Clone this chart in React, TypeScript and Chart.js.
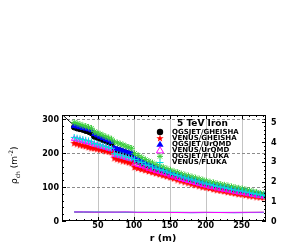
import React, { useEffect, useRef } from 'react';
import { Chart, registerables } from 'chart.js';
Chart.register(...registerables);

// radial distances (m)
const R = [
  17, 21, 25, 29, 33, 37, 41,
  45, 49, 53, 57, 61, 65, 69,
  73, 77, 81, 85, 89, 93, 97,
  101, 106, 111, 116, 121, 126, 131, 136, 141, 146, 151, 156, 161, 166, 171, 176, 181, 186, 191,
  196, 201, 206, 211, 216, 221, 226, 231, 236, 241, 246, 251, 256, 261, 266, 271, 276, 281,
];

const QGSJET_GHEISHA = [
  276, 273, 271, 269, 266, 264, 261,
  249, 246, 243, 239, 236, 232, 229,
  212, 209, 207, 204, 201, 199, 196,
  179, 175, 170, 166, 162, 158, 154, 150, 147, 143, 140, 136, 133, 129, 126, 123, 120, 117, 114,
  111, 108, 106, 103, 101, 99, 97, 95, 92, 90, 88, 87, 84, 82, 80, 78, 76, 75,
];
const VENUS_GHEISHA = [
  230, 228, 225, 223, 221, 218, 216,
  215, 213, 211, 209, 207, 205, 203,
  186, 183, 181, 178, 176, 173, 171,
  159, 156, 153, 150, 147, 144, 141, 138, 135, 132, 129, 126, 122, 119, 116, 113, 110, 107, 104,
  101, 99, 97, 94, 92, 90, 88, 86, 84, 82, 80, 79, 77, 75, 74, 72, 71, 70,
];
const QGSJET_URQMD = [
  280, 278, 276, 274, 272, 270, 267,
  256, 252, 248, 244, 240, 237, 233,
  215, 212, 210, 207, 205, 202, 200,
  187, 182, 177, 172, 167, 163, 158, 155, 151, 147, 144, 140, 137, 133, 130, 127, 124, 121, 118,
  115, 112, 110, 107, 105, 103, 101, 99, 96, 94, 92, 90, 88, 86, 83, 81, 79, 77,
];
const VENUS_URQMD = [
  242, 240, 238, 236, 233, 231, 229,
  225, 223, 220, 218, 216, 213, 211,
  195, 193, 191, 189, 186, 184, 182,
  169, 165, 162, 158, 154, 151, 147, 144, 141, 138, 134, 131, 127, 124, 121, 118, 115, 112, 109,
  106, 104, 101, 99, 96, 94, 92, 90, 88, 86, 84, 83, 81, 79, 77, 75, 74, 72,
];
const QGSJET_FLUKA = [
  290, 287, 284, 281, 279, 276, 273,
  263, 259, 256, 252, 248, 245, 241,
  233, 230, 227, 224, 220, 217, 214,
  199, 193, 187, 181, 176, 171, 166, 162, 158, 154, 150, 146, 143, 139, 136, 133, 130, 127, 124,
  121, 118, 115, 113, 110, 108, 106, 104, 101, 99, 97, 95, 92, 90, 87, 85, 82, 80,
];
const VENUS_FLUKA = [
  246, 244, 242, 240, 238, 236, 233,
  228, 226, 224, 221, 219, 216, 214,
  198, 196, 194, 192, 189, 187, 185,
  181, 176, 172, 167, 163, 159, 155, 151, 148, 144, 141, 137, 134, 130, 127, 124, 121, 118, 115,
  112, 109, 107, 104, 102, 100, 98, 96, 93, 91, 89, 88, 85, 83, 81, 79, 77, 75,
];

// fit curve
const FIT_R = [0, 10, 20, 30, 45, 60, 80, 100, 130, 160, 200, 240, 281];
const FIT_V = [314, 294, 276, 262, 246, 232, 210, 184, 157, 134, 108, 90, 75];

// ratio curves (right axis)
const RATIO_R = [17, 30, 45, 60, 75, 90, 105, 120, 140, 160, 180, 200, 220, 240, 260, 281];
const RATIO_MAGENTA = [0.46, 0.46, 0.45, 0.45, 0.45, 0.46, 0.44, 0.44, 0.44, 0.43, 0.44, 0.44, 0.43, 0.44, 0.44, 0.45];
const RATIO_CYAN = [0.47, 0.46, 0.46, 0.45, 0.44, 0.45, 0.44, 0.44, 0.43, 0.44, 0.43, 0.43, 0.44, 0.43, 0.43, 0.43];
const RATIO_BLUE = [0.45, 0.45, 0.44, 0.44, 0.44, 0.44, 0.43, 0.43, 0.43, 0.43, 0.42, 0.43, 0.43, 0.42, 0.43, 0.43];
const RATIO_GREEN = [0.46, 0.45, 0.45, 0.45, 0.45, 0.44, 0.44, 0.44, 0.44, 0.44, 0.43, 0.44, 0.43, 0.43, 0.44, 0.44];

const X_TICKS = [50, 100, 150, 200, 250];
const Y_TICKS = [0, 100, 200, 300];
const Y2_TICKS = [0, 1, 2, 3, 4, 5];

const LEGEND_LABELS = ['QGSJET/GHEISHA', 'VENUS/GHEISHA', 'QGSJET/UrQMD', 'VENUS/UrQMD', 'QGSJET/FLUKA', 'VENUS/FLUKA'];

const GREEN = 'rgb(60,205,60)';
const CYAN = 'rgb(0,220,225)';

function starPath(ctx: CanvasRenderingContext2D, cx: number, cy: number, ro: number, ri: number) {
  ctx.beginPath();
  for (let i = 0; i < 10; i++) {
    const ang = -Math.PI / 2 + (i * Math.PI) / 5;
    const rr = i % 2 === 0 ? ro : ri;
    const x = cx + rr * Math.cos(ang);
    const y = cy + rr * Math.sin(ang);
    if (i === 0) ctx.moveTo(x, y);
    else ctx.lineTo(x, y);
  }
  ctx.closePath();
}

function makeStar(size: number, color: string) {
  const c = document.createElement('canvas');
  c.width = size;
  c.height = size;
  const g = c.getContext('2d')!;
  g.fillStyle = color;
  starPath(g, size / 2, size / 2 + 0.4, size / 2, size / 4.6);
  g.fill();
  return c;
}

function pts(xs: number[], ys: number[]) {
  return xs.map((x, i) => ({ x, y: ys[i] }));
}

function drawMarker(ctx: CanvasRenderingContext2D, kind: number, x: number, y: number) {
  ctx.save();
  ctx.lineWidth = 1;
  if (kind === 0) {
    ctx.fillStyle = '#000';
    ctx.beginPath();
    ctx.arc(x, y, 3.2, 0, Math.PI * 2);
    ctx.fill();
  } else if (kind === 1) {
    ctx.fillStyle = '#ff0000';
    starPath(ctx, x, y + 0.4, 3.8, 1.6);
    ctx.fill();
  } else if (kind === 2 || kind === 3) {
    ctx.beginPath();
    ctx.moveTo(x, y - 3.5);
    ctx.lineTo(x + 3.6, y + 2.6);
    ctx.lineTo(x - 3.6, y + 2.6);
    ctx.closePath();
    if (kind === 2) {
      ctx.fillStyle = '#0000ff';
      ctx.fill();
    } else {
      ctx.strokeStyle = '#ff00ff';
      ctx.stroke();
    }
  } else if (kind === 4) {
    ctx.strokeStyle = GREEN;
    ctx.beginPath();
    ctx.moveTo(x - 3, y);
    ctx.lineTo(x + 3, y);
    ctx.moveTo(x, y - 3);
    ctx.lineTo(x, y + 3);
    ctx.moveTo(x - 2.2, y - 2.2);
    ctx.lineTo(x + 2.2, y + 2.2);
    ctx.moveTo(x - 2.2, y + 2.2);
    ctx.lineTo(x + 2.2, y - 2.2);
    ctx.stroke();
  } else {
    ctx.strokeStyle = CYAN;
    ctx.beginPath();
    ctx.moveTo(x - 3.5, y);
    ctx.lineTo(x + 3.5, y);
    ctx.moveTo(x, y - 3.5);
    ctx.lineTo(x, y + 3.5);
    ctx.stroke();
  }
  ctx.restore();
}

const rootPlugin = {
  id: 'rootStyle',
  beforeDatasetsDraw(chart: any) {
    const { ctx, chartArea: a, scales } = chart;
    ctx.save();
    ctx.lineWidth = 1;
    ctx.strokeStyle = '#c4c4c4';
    for (const v of X_TICKS) {
      const px = Math.round(scales.x.getPixelForValue(v)) + 0.5;
      ctx.beginPath();
      ctx.moveTo(px, a.top);
      ctx.lineTo(px, a.bottom);
      ctx.stroke();
    }
    ctx.strokeStyle = '#8c8c8c';
    ctx.setLineDash([3, 2]);
    for (const v of Y_TICKS) {
      if (v === 0) continue;
      const py = Math.round(scales.y.getPixelForValue(v)) + 0.5;
      ctx.beginPath();
      ctx.moveTo(a.left, py);
      ctx.lineTo(a.right, py);
      ctx.stroke();
    }
    ctx.restore();
  },
  afterDatasetsDraw(chart: any) {
    const { ctx, chartArea: a, scales } = chart;
    ctx.save();
    ctx.strokeStyle = '#000';
    ctx.lineWidth = 1;
    ctx.strokeRect(a.left + 0.5, a.top + 0.5, a.right - a.left - 1, a.bottom - a.top - 1);
    ctx.beginPath();
    // x ticks bottom & top
    for (let v = 0; v <= scales.x.max; v += 10) {
      const px = Math.round(scales.x.getPixelForValue(v)) + 0.5;
      const len = v % 50 === 0 ? 4 : 2;
      ctx.moveTo(px, a.bottom);
      ctx.lineTo(px, a.bottom - len);
      ctx.moveTo(px, a.top);
      ctx.lineTo(px, a.top + len);
    }
    // left y ticks
    for (let v = 0; v <= scales.y.max; v += 20) {
      const py = Math.round(scales.y.getPixelForValue(v)) + 0.5;
      const len = v % 100 === 0 ? 4 : 2;
      ctx.moveTo(a.left, py);
      ctx.lineTo(a.left + len, py);
    }
    // right y ticks
    for (let k = 0; k * 0.2 <= scales.y2.max; k++) {
      const py = Math.round(scales.y2.getPixelForValue(k * 0.2)) + 0.5;
      const len = k % 5 === 0 ? 4 : 2;
      ctx.moveTo(a.right, py);
      ctx.lineTo(a.right - len, py);
    }
    ctx.stroke();

    // tick labels
    ctx.fillStyle = '#000';
    ctx.font = 'bold 8px "DejaVu Sans"';
    ctx.textBaseline = 'middle';
    ctx.textAlign = 'center';
    for (const v of X_TICKS) {
      ctx.fillText(String(v), scales.x.getPixelForValue(v), a.bottom + 5);
    }
    ctx.textAlign = 'right';
    for (const v of Y_TICKS) {
      ctx.fillText(String(v), a.left - 3, scales.y.getPixelForValue(v) + 0.5);
    }
    ctx.textAlign = 'left';
    for (const v of Y2_TICKS) {
      ctx.fillText(String(v), a.right + 5, scales.y2.getPixelForValue(v) + 0.5);
    }

    // legend
    ctx.textBaseline = 'middle';
    ctx.textAlign = 'left';
    ctx.font = 'bold 9px "DejaVu Sans"';
    ctx.fillText('5 TeV Iron', 177, 124);
    ctx.font = 'bold 7px "DejaVu Sans"';
    LEGEND_LABELS.forEach((lab, i) => {
      const y = 132 + i * 6.1;
      drawMarker(ctx, i, 160, y);
      ctx.fillStyle = '#000';
      ctx.fillText(lab, 172, y);
    });

    // axis titles
    ctx.font = 'bold 9.5px "DejaVu Sans"';
    ctx.textAlign = 'center';
    ctx.fillText('r (m)', 163, 239);

    ctx.save();
    ctx.translate(17, 184);
    ctx.rotate(-Math.PI / 2);
    ctx.textAlign = 'left';
    ctx.textBaseline = 'alphabetic';
    let x = 0;
    ctx.font = '9px "DejaVu Sans"';
    ctx.fillText('ρ', x, 0);
    x += ctx.measureText('ρ').width;
    ctx.font = '6px "DejaVu Sans"';
    ctx.fillText('ch', x, 2.5);
    x += ctx.measureText('ch').width + 3;
    ctx.font = '9px "DejaVu Sans"';
    ctx.fillText('(m', x, 0);
    x += ctx.measureText('(m').width;
    ctx.font = '6px "DejaVu Sans"';
    ctx.fillText('-2', x, -4);
    x += ctx.measureText('-2').width;
    ctx.font = '9px "DejaVu Sans"';
    ctx.fillText(')', x, 0);
    ctx.restore();

    ctx.restore();
  },
};

export default function App() {
  const ref = useRef<HTMLCanvasElement | null>(null);
  useEffect(() => {
    if (!ref.current) return;
    const redStar = makeStar(8, '#ff0000');
    const scatter = (label: string, data: number[], style: any) => ({
      label,
      data: pts(R, data),
      showLine: false,
      pointRadius: 2.8,
      pointBorderWidth: 1,
      ...style,
    });
    const ratio = (data: number[], color: string) => ({
      label: 'ratio',
      data: pts(RATIO_R, data),
      yAxisID: 'y2',
      borderColor: color,
      borderWidth: 1,
      pointRadius: 0,
      fill: false,
    });
    const hiddenTicks = { display: false };
    const chart = new Chart(ref.current, {
      type: 'line',
      data: {
        datasets: [
          ratio(RATIO_MAGENTA, '#ff00ff'),
          ratio(RATIO_CYAN, CYAN),
          ratio(RATIO_GREEN, GREEN),
          ratio(RATIO_BLUE, '#3030ff'),
          scatter(LEGEND_LABELS[5], VENUS_FLUKA, { pointStyle: 'cross', borderColor: CYAN, backgroundColor: CYAN, pointRadius: 3.4 }),
          scatter(LEGEND_LABELS[4], QGSJET_FLUKA, { pointStyle: 'star', borderColor: GREEN, backgroundColor: GREEN, pointRadius: 3.2 }),
          scatter(LEGEND_LABELS[3], VENUS_URQMD, { pointStyle: 'triangle', borderColor: '#ff00ff', backgroundColor: 'rgba(0,0,0,0)', pointRadius: 3.2 }),
          scatter(LEGEND_LABELS[2], QGSJET_URQMD, { pointStyle: 'triangle', borderColor: '#0000ff', backgroundColor: '#0000ff', pointRadius: 3 }),
          scatter(LEGEND_LABELS[1], VENUS_GHEISHA, { pointStyle: redStar, borderColor: '#ff0000', backgroundColor: '#ff0000' }),
          scatter(LEGEND_LABELS[0], QGSJET_GHEISHA, { pointStyle: 'circle', borderColor: '#000', backgroundColor: '#000', pointRadius: 2.8 }),
          {
            label: 'fit',
            data: pts(FIT_R, FIT_V),
            borderColor: '#000',
            borderWidth: 1,
            pointRadius: 0,
            fill: false,
          },
        ] as any,
      },
      options: {
        animation: false,
        responsive: false,
        layout: { padding: { top: 115, left: 0, right: 0, bottom: 0 } },
        plugins: { legend: { display: false }, tooltip: { enabled: false } },
        scales: {
          x: {
            type: 'linear',
            min: 0,
            max: 284,
            grid: { display: false },
            border: { display: false },
            ticks: hiddenTicks,
            afterFit: (s: any) => {
              s.height = 24;
            },
          },
          y: {
            type: 'linear',
            position: 'left',
            min: 0,
            max: 312,
            grid: { display: false },
            border: { display: false },
            ticks: hiddenTicks,
            afterFit: (s: any) => {
              s.width = 62;
            },
          },
          y2: {
            type: 'linear',
            position: 'right',
            min: 0,
            max: 5.38,
            grid: { display: false },
            border: { display: false },
            ticks: hiddenTicks,
            afterFit: (s: any) => {
              s.width = 39;
            },
          },
        },
      } as any,
      plugins: [rootPlugin],
    });
    return () => chart.destroy();
  }, []);
  return (
    <div style={{ position: 'fixed', left: 0, top: 0, width: 305, height: 245, background: '#fff' }}>
      <canvas ref={ref} width={305} height={245} />
    </div>
  );
}
